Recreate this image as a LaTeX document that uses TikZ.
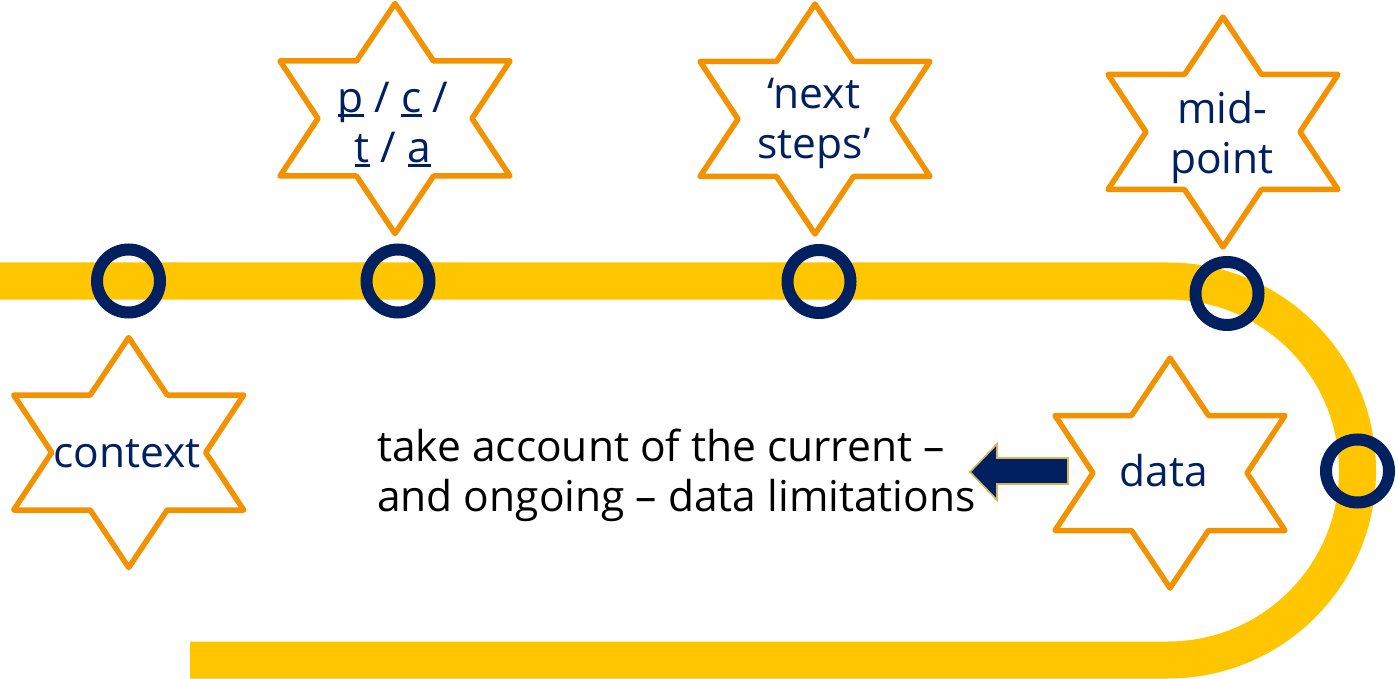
\documentclass[tikz,border=0pt]{standalone}
\usepackage{fontspec}
\setmainfont{Open Sans}
\definecolor{bandyellow}{HTML}{FFC600}
\definecolor{starorange}{HTML}{F39200}
\definecolor{navy}{HTML}{002060}
\definecolor{arrowrim}{HTML}{D1B65C}
% underline that sits just below the baseline, through descenders
\newcommand\letterline[1]{\setbox0\hbox{#1}\rlap{\rule[-4.5pt]{\wd0}{3pt}}#1}
\tikzset{
  band/.style={line width=37pt, draw=bandyellow},
  stop/.style={line width=12pt, draw=navy},
  starline/.style={line width=5.5pt, draw=starorange, fill=white, line join=round},
  hexstar/.pic={\draw[starline] (0,-115) -- (38.5,-57.5) -- (115,-57.5) -- (77,0)
      -- (115,57.5) -- (38.5,57.5) -- (0,115) -- (-38.5,57.5) -- (-115,57.5)
      -- (-77,0) -- (-115,-57.5) -- (-38.5,-57.5) -- cycle;},
  startext/.style={text=navy, inner sep=0pt, align=center, anchor=base,
      font=\fontsize{42.5}{50}\selectfont},
  note/.style={text=black, inner sep=0pt, align=left, anchor=base west,
      font=\fontsize{42.5}{50}\selectfont},
  pointer/.style={fill=navy, draw=arrowrim, line width=1.6pt, line join=miter}
}
\begin{document}
\begin{tikzpicture}[x=1pt, y=-1pt]
\useasboundingbox (0,0) rectangle (1398,679);

% the track
\coordinate (trackstart) at (-2,281);
\coordinate (bend) at (1168,281);
\coordinate (trackend) at (190,660);
\draw[band] (trackstart) -- (bend) arc[start angle=-90, end angle=90, radius=189.5] -- (trackend);

% milestones on the track
\node[circle, stop, minimum size=63pt, inner sep=0pt] (m1) at (128.5,281) {};
\node[circle, stop, minimum size=63pt, inner sep=0pt] (m2) at (398,281) {};
\node[circle, stop, minimum size=63pt, inner sep=0pt] (m3) at (819,281.5) {};
\node[circle, stop, minimum size=63pt, inner sep=0pt] (m4) at (1227,293.5) {};
\node[circle, stop, minimum size=63pt, inner sep=0pt] (m5) at (1357.5,471) {};

% stars
\coordinate (s1) at (128.7,452.5);
\coordinate (s2) at (395,118.5);
\coordinate (s3) at (815,119);
\coordinate (s4) at (1223,132);
\coordinate (s5) at (1170,473);
\pic at (s1) {hexstar};
\pic at (s2) {hexstar};
\pic at (s3) {hexstar};
\pic at (s4) {hexstar};
\pic at (s5) {hexstar};

\node[startext] (t1) at (127,467) {context};
\node[startext] (t2) at (393,163) {\letterline{p} / \letterline{c} /\\\letterline{t} / \letterline{a}};
\node[startext] (t3) at (814,159) {‘next\\steps’};
\node[startext] (t4) at (1222,174) {mid-\\point};
\node[startext] (t5) at (1164,486) {data};

% note and its pointer
\node[note] (note) at (377,511) {take account of the current –\\and ongoing – data limitations};
\draw[pointer] (970,472) -- (997,444) -- (997,458) -- (1068,458) -- (1068,484)
  -- (997,484) -- (997,500) -- cycle;
\end{tikzpicture}
\end{document}
